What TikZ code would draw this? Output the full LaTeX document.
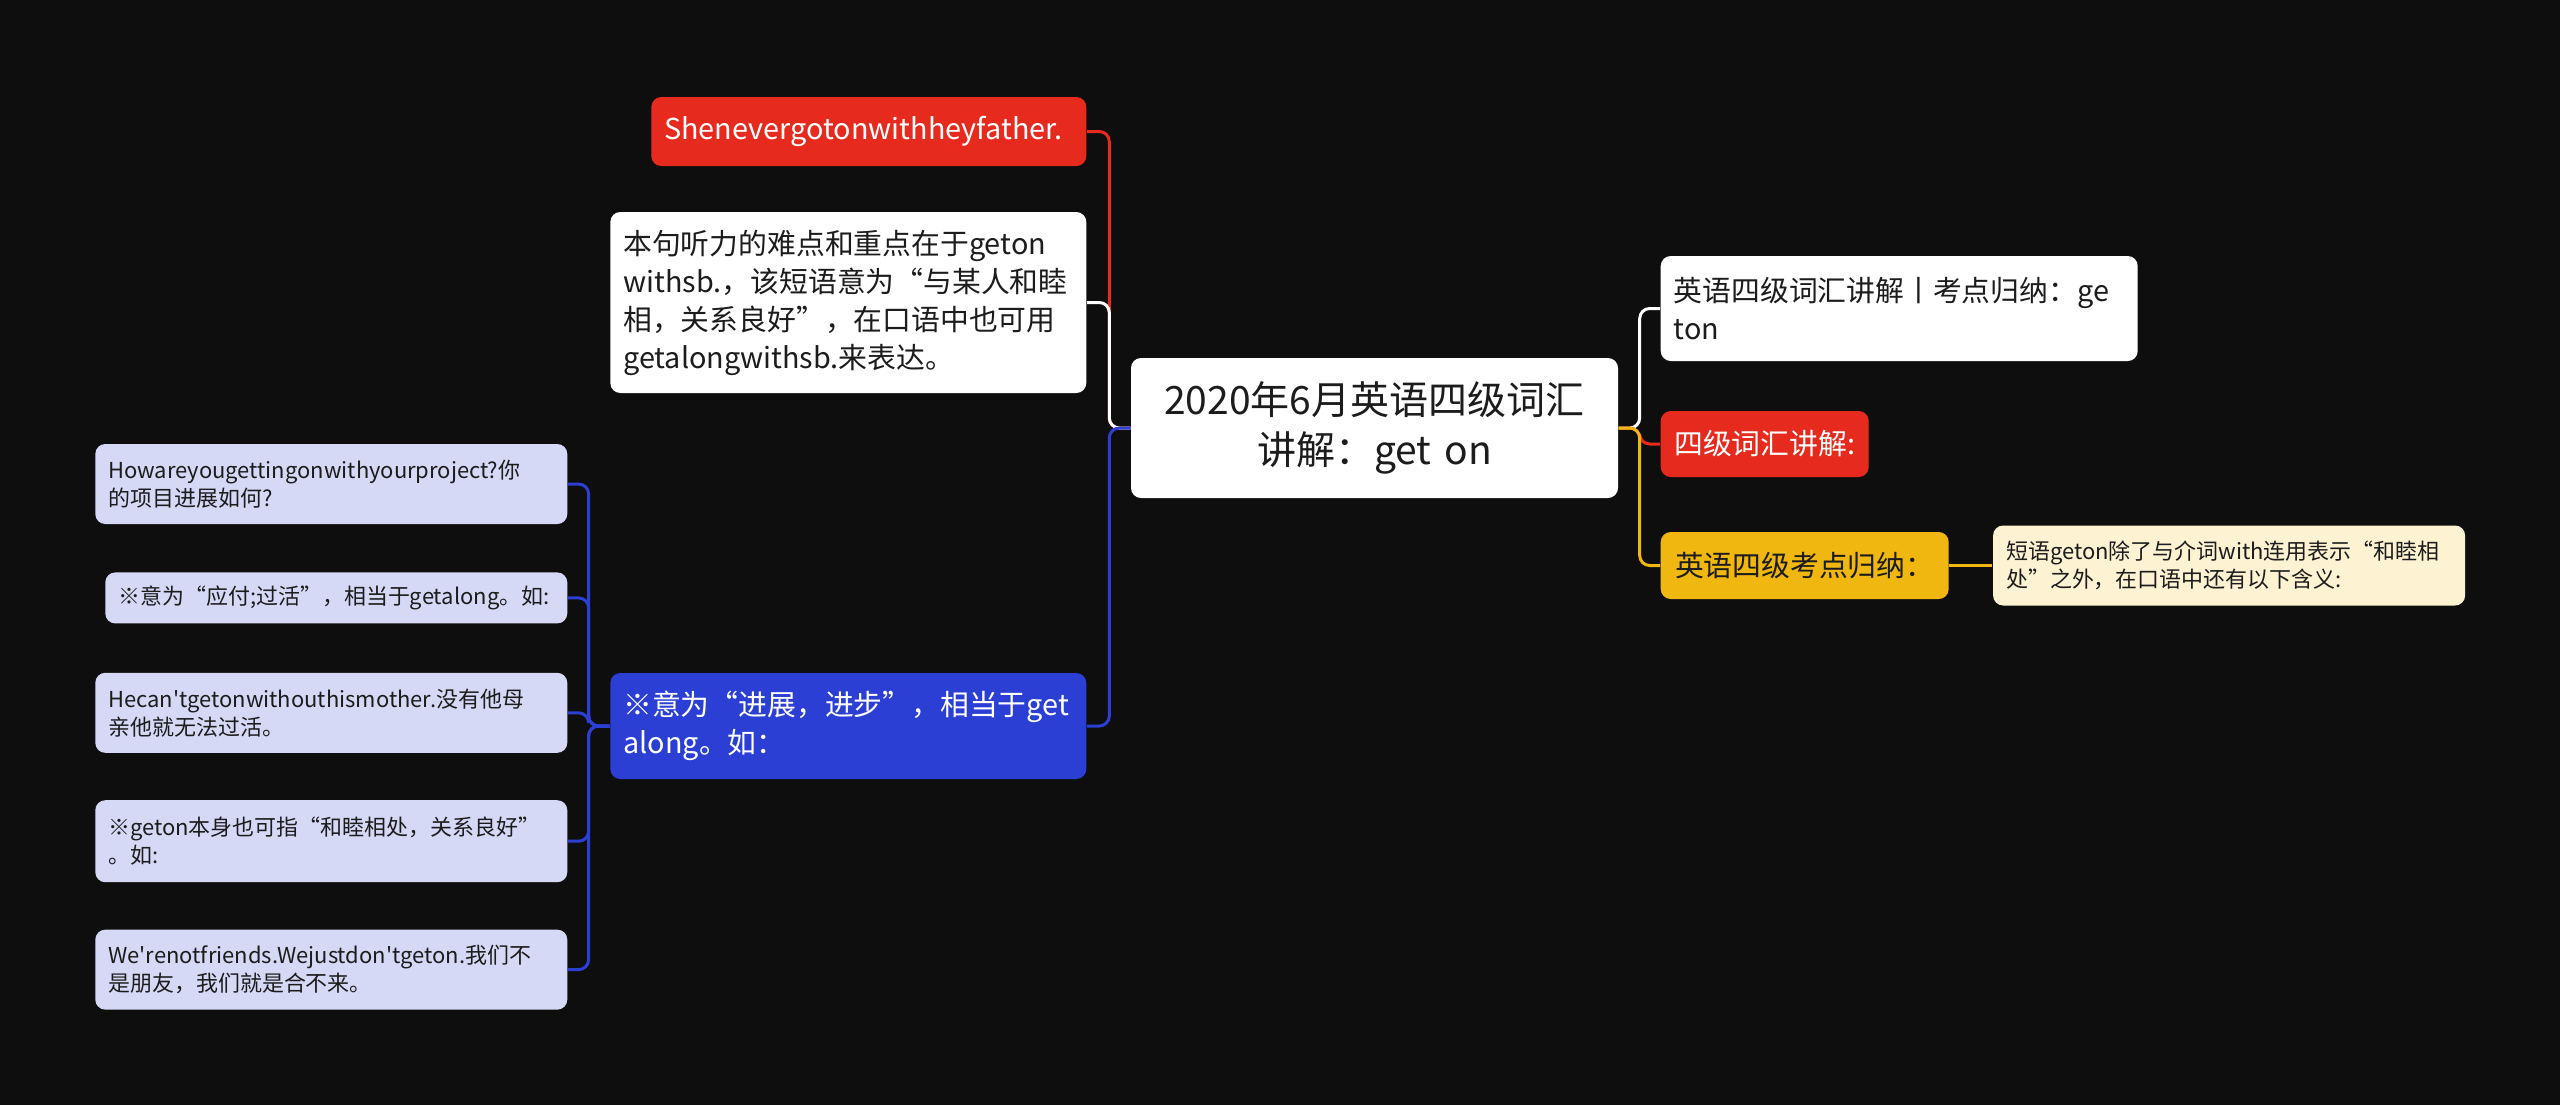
\documentclass[tikz,border=0pt]{standalone}
\usepackage{fontspec}
\newfontfamily\cjk{Noto Sans CJK SC}
\usetikzlibrary{positioning}
\definecolor{bgdark}{HTML}{0E0E0E}
\definecolor{mapred}{HTML}{E62A1E}
\definecolor{mapblue}{HTML}{2B3FD5}
\definecolor{mapyel}{HTML}{EFB70F}
\definecolor{lav}{HTML}{D5D9F6}
\definecolor{cream}{HTML}{FDF2D2}
\definecolor{txtdark}{HTML}{1C1C1C}
\tikzset{%
    box/.style={rounded corners=1mm,inner xsep=1.3mm,inner ysep=0pt,align=left},
    lv0/.style={box,fill=white,text=txtdark,align=center,font=\cjk\fontsize{11.1}{14.2}\selectfont},
    lv1/.style={box,font=\cjk\fontsize{8.2}{10.8}\selectfont},
    lv2/.style={box,fill=lav,text=txtdark,font=\cjk\fontsize{6.25}{7.95}\selectfont},
    conn/.style={line width=0.85pt,rounded corners=1mm}
}

\begin{document}
\begin{tikzpicture}
            \fill[bgdark] (0,0) rectangle (25.6,-11.05);
            \useasboundingbox (0,0) rectangle (25.6,-11.05);
            \node [lv0,text width=4.6cm,minimum width=4.87cm,minimum height=1.4cm] (c0) at (13.745,-4.28)
            {2020年6月英语四级词汇\\讲解：get on};
            %%%%%
            \node [lv1,fill=mapred,text=white,text width=4.09cm,minimum height=0.69cm,anchor=east] (l1-1) at (10.87,-1.315)
            {Shenevergotonwithheyfather.};
            \node [lv1,fill=white,text=txtdark,text width=4.5cm,minimum height=1.81cm,anchor=east] (l1-2) at (10.87,-3.025)
            {本句听力的难点和重点在于geton\\withsb.，该短语意为“与某人和睦\\相，关系良好”，在口语中也可用\\getalongwithsb.来表达。};
            \node [lv1,fill=mapblue,text=white,text width=4.5cm,minimum height=1.06cm,anchor=east] (l1-3) at (10.87,-7.26)
            {※意为“进展，进步”，相当于get\\along。如：};
            %%%%%
            \node [lv2,text width=4.46cm,minimum height=0.8cm,anchor=east] (l2-1) at (5.68,-4.84)
            {Howareyougettingonwithyourproject?你\\的项目进展如何?};
            \node [lv2,text width=4.36cm,minimum height=0.51cm,below left=0.47cm and 0cm of l2-1.south east] (l2-2)
            {※意为“应付;过活”，相当于getalong。如:};
            \node [lv2,text width=4.46cm,minimum height=0.8cm,below left=0.48cm and 0cm of l2-2.south east] (l2-3)
            {Hecan'tgetonwithouthismother.没有他母\\亲他就无法过活。};
            \node [lv2,text width=4.46cm,minimum height=0.82cm,below left=0.46cm and 0cm of l2-3.south east] (l2-4)
            {※geton本身也可指“和睦相处，关系良好”\\。如:};
            \node [lv2,text width=4.46cm,minimum height=0.8cm,below left=0.46cm and 0cm of l2-4.south east] (l2-5)
            {We'renotfriends.Wejustdon'tgeton.我们不\\是朋友，我们就是合不来。};
            %%%%%
            \node [lv1,fill=white,text=txtdark,text width=4.51cm,minimum height=1.05cm,anchor=west] (r1-1) at (16.6,-3.085)
            {英语四级词汇讲解丨考点归纳：ge\\ton};
            \node [lv1,fill=mapred,text=white,minimum width=2.08cm,minimum height=0.66cm,anchor=west] (r1-2) at (16.6,-4.44)
            {四级词汇讲解:};
            \node [lv1,fill=mapyel,text=txtdark,minimum width=2.88cm,minimum height=0.67cm,anchor=west] (r1-3) at (16.6,-5.655)
            {英语四级考点归纳：};
            \node [lv2,fill=cream,text width=4.46cm,minimum height=0.8cm,right=0.43cm of r1-3] (r2-1)
            {短语geton除了与介词with连用表示“和睦相\\处”之外，在口语中还有以下含义:};
            %%%%%
            \draw[conn,mapred] (c0.west) -- ++(-0.21,0) |- (l1-1.east);
            \draw[conn,white] (c0.west) -- ++(-0.21,0) |- (l1-2.east);
            \draw[conn,mapblue] (c0.west) -- ++(-0.21,0) |- (l1-3.east);
            \foreach \k in {1,...,5}
                \draw[conn,mapblue] (l1-3.west) -- ++(-0.21,0) |- (l2-\k.east);
            \draw[conn,white] (c0.east) -- ++(0.21,0) |- (r1-1.west);
            \draw[conn,mapred] (c0.east) -- ++(0.21,0) |- (r1-2.west);
            \draw[conn,mapyel] (c0.east) -- ++(0.21,0) |- (r1-3.west);
            \draw[conn,mapyel] (r1-3) -- (r2-1);
            \end{tikzpicture}
\end{document}
